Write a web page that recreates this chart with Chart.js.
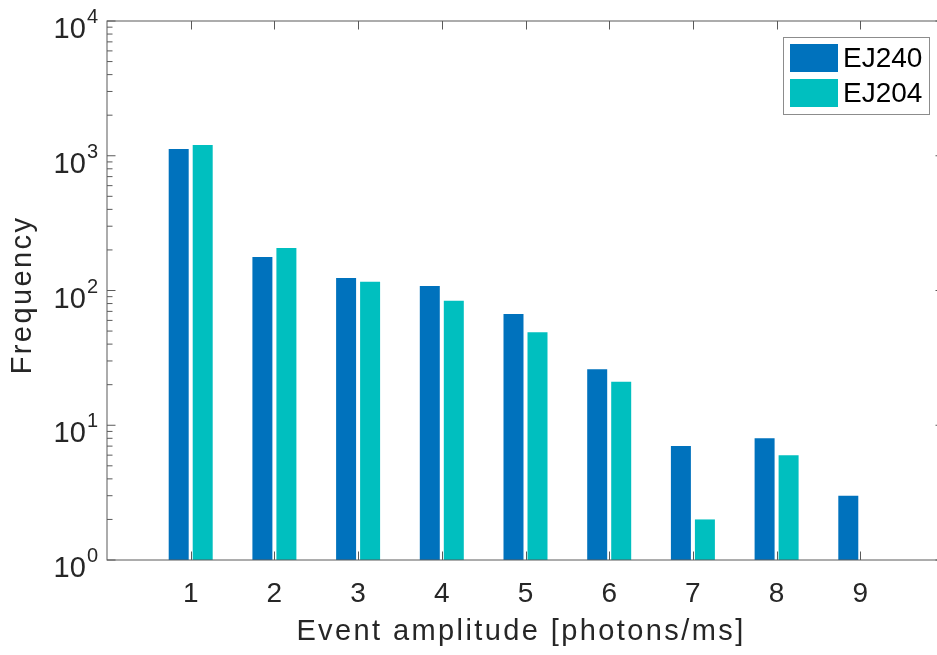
<!DOCTYPE html>
<html>
<head>
<meta charset="utf-8">
<script src="https://cdn.jsdelivr.net/npm/chart.js@4/dist/chart.umd.min.js"></script>
<style>
  html, body { margin: 0; padding: 0; background: #fff; }
  #wrap { width: 937px; height: 655px; overflow: hidden; position: relative; }
  canvas { display: block; }
</style>
</head>
<body>
<div id="wrap"><canvas id="chart" width="960" height="655"></canvas></div>
<script>
// Event amplitude bins [photons/ms]
const amplitudes = [1, 2, 3, 4, 5, 6, 7, 8, 9];
// Counts per bin for each scintillator
const ej240 = [1120, 177, 124, 108, 67, 26, 7, 8, 3];
const ej204 = [1200, 207, 116, 84, 49, 21, 2, 6, null];
// Decades shown on the y axis
const yExponents = [0, 1, 2, 3, 4];
const seriesNames = ['EJ240', 'EJ204'];
const seriesColors = ['#0072BD', '#00BFBF'];

const FONT = '"Liberation Sans", Arial, Helvetica, sans-serif';
const TEXT = '#262626';
const AXIS = '#5a5a5a';

// frame, inward ticks, tick labels, axis titles and legend (MATLAB look)
const axesDecor = {
  id: 'axesDecor',
  afterDraw(chart) {
    const ctx = chart.ctx;
    const a = chart.chartArea;
    const xs = chart.scales.x;
    const ys = chart.scales.y;
    const major = 8.5, minor = 5.5;
    ctx.save();

    // box
    ctx.strokeStyle = AXIS;
    ctx.lineWidth = 1;
    ctx.strokeRect(a.left, a.top, a.right - a.left, a.bottom - a.top);

    // x ticks, bottom and top
    ctx.beginPath();
    amplitudes.forEach(v => {
      const px = Math.round(xs.getPixelForValue(v)) + 0.5;
      ctx.moveTo(px, a.bottom); ctx.lineTo(px, a.bottom - major);
      ctx.moveTo(px, a.top); ctx.lineTo(px, a.top + major);
    });
    // y ticks, left and right, with minor ticks between decades
    yExponents.forEach(e => {
      const py = ys.getPixelForValue(Math.pow(10, e));
      ctx.moveTo(a.left, py); ctx.lineTo(a.left + major, py);
      ctx.moveTo(a.right, py); ctx.lineTo(a.right - major, py);
      if (e < yExponents[yExponents.length - 1]) {
        for (let m = 2; m <= 9; m++) {
          const pm = ys.getPixelForValue(m * Math.pow(10, e));
          ctx.moveTo(a.left, pm); ctx.lineTo(a.left + minor, pm);
          ctx.moveTo(a.right, pm); ctx.lineTo(a.right - minor, pm);
        }
      }
    });
    ctx.stroke();

    ctx.fillStyle = TEXT;
    // x tick labels
    ctx.font = '28px ' + FONT;
    ctx.textAlign = 'center';
    ctx.textBaseline = 'alphabetic';
    amplitudes.forEach(v => {
      ctx.fillText(String(v), xs.getPixelForValue(v), a.bottom + 42);
    });

    // y tick labels as 10^n
    yExponents.forEach(e => {
      const py = ys.getPixelForValue(Math.pow(10, e));
      const right = a.left - 9;
      ctx.font = '20px ' + FONT;
      ctx.textAlign = 'right';
      const ew = ctx.measureText(String(e)).width;
      ctx.fillText(String(e), right, py + 2);
      ctx.font = '29px ' + FONT;
      ctx.fillText('10', right - ew - 1, py + 17);
    });

    // axis titles
    ctx.font = '29px ' + FONT;
    ctx.letterSpacing = '2.4px';
    ctx.textAlign = 'center';
    ctx.fillText('Event amplitude [photons/ms]', 521, 640);
    ctx.save();
    ctx.translate(31, 295);
    ctx.rotate(-Math.PI / 2);
    ctx.fillText('Frequency', 0, 0);
    ctx.restore();
    ctx.letterSpacing = '0px';

    // legend
    const lx = 783.5, ly = 37.5, lw = 146, lh = 77;
    ctx.fillStyle = '#fff';
    ctx.fillRect(lx, ly, lw, lh);
    ctx.strokeStyle = '#8c8c8c';
    ctx.strokeRect(lx, ly, lw, lh);
    ctx.font = '28px ' + FONT;
    ctx.textAlign = 'left';
    ctx.textBaseline = 'middle';
    seriesNames.forEach((name, i) => {
      const y0 = 44 + i * 35;
      ctx.fillStyle = seriesColors[i];
      ctx.fillRect(790, y0, 48, 28);
      ctx.fillStyle = '#000';
      ctx.fillText(name, 843, y0 + 15);
    });
    ctx.restore();
  }
};

new Chart(document.getElementById('chart'), {
  type: 'bar',
  data: {
    datasets: [ej240, ej204].map((vals, i) => ({
      label: seriesNames[i],
      data: amplitudes.map((x, k) => ({ x: x, y: vals[k] })),
      backgroundColor: seriesColors[i],
      borderWidth: 0,
      categoryPercentage: 0.5735,
      barPercentage: 0.833
    }))
  },
  options: {
    responsive: false,
    animation: false,
    layout: { padding: { left: 107, right: 16, top: 21, bottom: 95 } },
    plugins: { legend: { display: false }, tooltip: { enabled: false } },
    scales: {
      x: { type: 'linear', min: 0, max: 10, offset: false, display: false },
      y: { type: 'logarithmic', min: 1, max: 10000, display: false }
    }
  },
  plugins: [axesDecor]
});
</script>
</body>
</html>
